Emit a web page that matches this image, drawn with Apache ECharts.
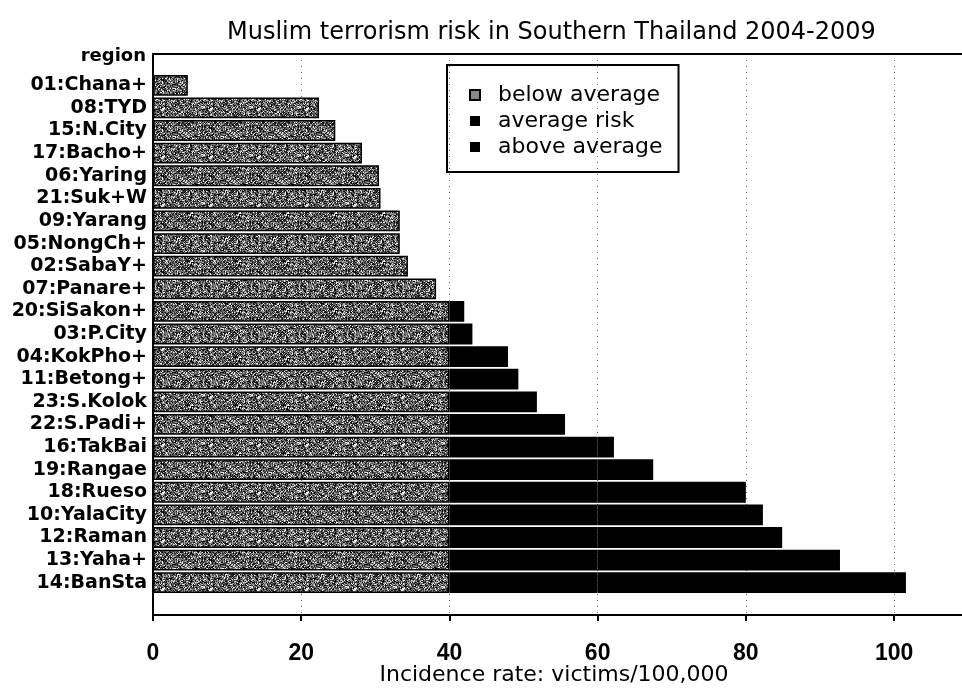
<!DOCTYPE html>
<html>
<head>
<meta charset="utf-8">
<script src="https://cdn.jsdelivr.net/npm/echarts@6/dist/echarts.min.js"></script>
<style>
  html, body { margin: 0; padding: 0; background: #fff; }
  #chart { width: 962px; height: 693px; }
</style>
</head>
<body>
<div id="chart"></div>
<script>
// regions, top to bottom
const regions = [
  '01:Chana+', '08:TYD', '15:N.City', '17:Bacho+', '06:Yaring', '21:Suk+W',
  '09:Yarang', '05:NongCh+', '02:SabaY+', '07:Panare+', '20:SiSakon+', '03:P.City',
  '04:KokPho+', '11:Betong+', '23:S.Kolok', '22:S.Padi+', '16:TakBai', '19:Rangae',
  '18:Rueso', '10:YalaCity', '12:Raman', '13:Yaha+', '14:BanSta'
];
// victims per 100,000
const rates = [
  4.7, 22.4, 24.6, 28.2, 30.5, 30.7,
  33.3, 33.3, 34.4, 38.2, 42.0, 43.1,
  47.9, 49.3, 51.8, 55.6, 62.2, 67.5,
  80.0, 82.3, 84.9, 92.7, 101.6
];
const seriesNames = ['below average', 'average risk', 'above average'];
const lowLimit = 40;
const highLimit = 60;
const xTicks = [0, 20, 40, 60, 80, 100];

const r1 = v => Math.round(v * 10) / 10;
const nz = v => (v > 0 ? r1(v) : '-');
const belowPart = rates.map(v => r1(Math.min(v, lowLimit)));
const avgPart = rates.map(v => nz(Math.min(v, highLimit) - lowLimit));
const abovePart = rates.map(v => nz(v - highLimit));

// speckled grey fill, like the scanned hatch
function speckle() {
  const c = document.createElement('canvas');
  c.width = 48; c.height = 48;
  const ctx = c.getContext('2d');
  const img = ctx.createImageData(48, 48);
  const shades = [235, 170, 130, 105, 80, 55, 30, 0];
  for (let y = 0; y < 48; y++) {
    for (let x = 0; x < 48; x++) {
      let h = (x * 374761393 + y * 668265263) | 0;
      h = (h ^ (h >>> 13)) * 1274126177 | 0;
      h = h ^ (h >>> 16);
      const g = shades[(h >>> 3) & 7];
      const i = (y * 48 + x) * 4;
      img.data[i] = img.data[i + 1] = img.data[i + 2] = g;
      img.data[i + 3] = 255;
    }
  }
  ctx.putImageData(img, 0, 0);
  return c;
}

const chart = echarts.init(document.getElementById('chart'));
// the frame runs past the right edge of the picture
const xMax = 112;
const plain = 'DejaVu Sans, sans-serif';

chart.setOption({
  animation: false,
  backgroundColor: '#fff',
  title: [
    {
      text: 'Muslim terrorism risk in Southern Thailand 2004-2009',
      left: 227, top: 21, padding: 0,
      textStyle: { fontFamily: plain, fontSize: 24, fontWeight: 'normal', color: '#000' }
    },
    {
      text: 'region',
      right: 816, top: 47, padding: 0,
      textStyle: { fontFamily: plain, fontSize: 18, fontWeight: 'bold', color: '#000' }
    }
  ],
  legend: {
    orient: 'vertical',
    left: 447, top: 65,
    padding: [19, 16, 14, 22],
    borderColor: '#000', borderWidth: 2,
    icon: 'rect',
    itemWidth: 10, itemHeight: 10, itemGap: 4,
    textStyle: { fontFamily: plain, fontSize: 22, color: '#000', padding: [0, 0, 0, 13] },
    data: [
      { name: seriesNames[0], itemStyle: { color: '#8a8a8a', borderColor: '#000', borderWidth: 2 } },
      { name: seriesNames[1], itemStyle: { color: '#000', borderWidth: 0 } },
      { name: seriesNames[2], itemStyle: { color: '#000', borderWidth: 0 } }
    ]
  },
  grid: [
    { left: 153, right: -21, top: 54, bottom: 78, outerBoundsMode: 'none' },
    { left: 153, right: -21, top: 74, bottom: 99, outerBoundsMode: 'none' }
  ],
  xAxis: [
    {
      gridIndex: 0, type: 'value', position: 'bottom',
      min: 0, max: xMax, interval: 20,
      name: 'Incidence rate: victims/100,000',
      nameLocation: 'middle', nameGap: 49, nameMoveOverlap: false,
      nameTextStyle: { fontFamily: plain, fontSize: 22, color: '#000', padding: [0, 0, 0, -28] },
      axisLine: { show: true, lineStyle: { color: '#000', width: 2 } },
      axisTick: { show: true, inside: false, length: 6, lineStyle: { color: '#000', width: 2 } },
      axisLabel: {
        margin: 27, showMaxLabel: false,
        fontFamily: 'Liberation Sans, sans-serif',
        fontWeight: 'bold', fontSize: 23, color: '#000',
        formatter: v => (xTicks.includes(v) ? String(v) : '')
      },
      splitLine: { show: true, lineStyle: { color: '#666', type: [1, 5], width: 1 } }
    },
    {
      gridIndex: 0, type: 'value', position: 'top',
      min: 0, max: xMax,
      axisLine: { lineStyle: { color: '#000', width: 2 } },
      axisTick: { show: false }, axisLabel: { show: false }, splitLine: { show: false }
    },
    {
      gridIndex: 1, type: 'value', min: 0, max: xMax, show: false
    }
  ],
  yAxis: [
    {
      gridIndex: 0, type: 'value', min: 0, max: 1,
      axisLine: { show: true, lineStyle: { color: '#000', width: 2 } },
      axisTick: { show: false }, axisLabel: { show: false }, splitLine: { show: false }
    },
    {
      gridIndex: 1, type: 'category', data: regions, inverse: true,
      axisLine: { show: false }, axisTick: { show: false },
      axisLabel: {
        interval: 0, margin: 6,
        fontFamily: plain, fontWeight: 'bold', fontSize: 19, color: '#000'
      }
    }
  ],
  series: [
    {
      name: seriesNames[0], type: 'bar', stack: 'risk',
      xAxisIndex: 2, yAxisIndex: 1, barWidth: '92%',
      itemStyle: { color: { image: speckle(), repeat: 'repeat' }, borderColor: '#000', borderWidth: 1.5 },
      data: belowPart
    },
    {
      name: seriesNames[1], type: 'bar', stack: 'risk',
      xAxisIndex: 2, yAxisIndex: 1, barWidth: '92%',
      itemStyle: { color: '#000', borderColor: '#000', borderWidth: 1.5 },
      data: avgPart
    },
    {
      name: seriesNames[2], type: 'bar', stack: 'risk',
      xAxisIndex: 2, yAxisIndex: 1, barWidth: '92%',
      itemStyle: { color: '#000', borderColor: '#000', borderWidth: 1.5 },
      data: abovePart
    }
  ]
});
</script>
</body>
</html>
